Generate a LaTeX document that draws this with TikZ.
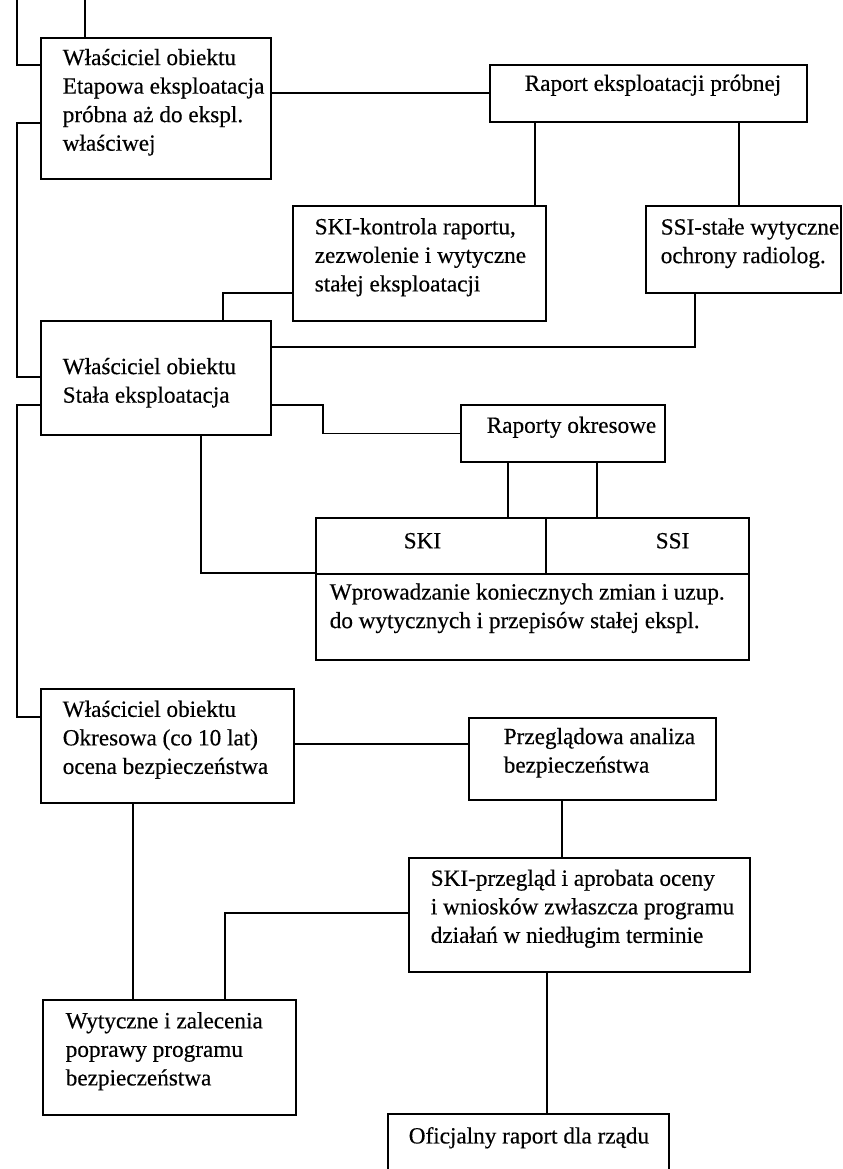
\documentclass[tikz,border=0pt]{standalone}
\usepackage{fontspec}
\setmainfont{Liberation Serif}[FakeBold=0.4]
\newdimen\px \px=0.025cm
% text block in a box: [bottom gap]{width}{height}{left pad}{text}
\newcommand{\boxtxt}[5][12]{\parbox[c][#3\px][c]{#2\px}{\leftskip=#4\px\relax\rightskip=-40\px plus 1fil\relax #5\par\vspace*{#1\px}}}
\tikzset{
  box/.style={draw, line width=1.1pt, inner sep=0pt, anchor=north west, font=\fontsize{16.5}{20.3}\selectfont},
  link/.style={line width=1.1pt}
}
\begin{document}
\begin{tikzpicture}[x=0.025cm,y=-0.025cm]
\useasboundingbox (0,0) rectangle (842,1169);

% owner boxes on the left
\node[box] (own1) at (40,37) {\boxtxt{230}{141}{22}{Właściciel obiektu\\Etapowa eksploatacja\\próbna aż do ekspl.\\właściwej}};
\node[box] (own2) at (40,320) {\boxtxt[-10]{230}{114}{22}{Właściciel obiektu\\Stała eksploatacja}};
\node[box] (own3) at (40,688) {\boxtxt{253}{114}{22}{Właściciel obiektu\\Okresowa (co 10 lat)\\ocena bezpieczeństwa}};
\node[box] (guide) at (42,999) {\boxtxt{253}{115}{23}{Wytyczne i zalecenia\\poprawy programu\\bezpieczeństwa}};

% trial operation
\node[box] (trial) at (489,64) {\boxtxt[16]{317}{57}{35}{Raport eksploatacji próbnej}};
\node[box] (skiok) at (292,205) {\boxtxt{253}{115}{22}{SKI-kontrola raportu,\\zezwolenie i wytyczne\\stałej eksploatacji}};
\node[box] (ssiok) at (645,205) {\boxtxt{195}{87}{15}{SSI-stałe wytyczne\\ochrony radiolog.}};

% permanent operation
\node[box] (periodic) at (460,404) {\boxtxt{204}{57}{26}{Raporty okresowe}};
\node[box] (skicell) at (315,517) {\boxtxt[10]{230}{56}{88}{SKI}};
\node[box] (ssicell) at (545,517) {\boxtxt[10]{203}{56}{110}{SSI}};
\node[box] (changes) at (315,573) {\boxtxt[17]{433}{86}{14}{Wprowadzanie koniecznych zmian i uzup.\\do wytycznych i przepisów stałej ekspl.}};

% periodic assessment
\node[box] (psa) at (468,717) {\boxtxt{247}{82}{35}{Przeglądowa analiza\\bezpieczeństwa}};
\node[box] (skirev) at (408,857) {\boxtxt{341}{114}{22}{SKI-przegląd i aprobata oceny\\i wniosków zwłaszcza programu\\działań w niedługim terminie}};
\node[box] (gov) at (387,1113) {\boxtxt{281}{60}{21}{Oficjalny raport dla rządu}};

% lines coming from above
\coordinate (in1) at (17,0);
\coordinate (in2) at (85,0);
\draw[link] (in1) |- (own1.west |- 0,65);
\draw[link] (in2) -- (in2 |- own1.north);

\draw[link] (own1.east |- trial.west) -- (trial.west);
\draw[link] (trial.south -| 535,0) -- (skiok.north -| 535,0);
\draw[link] (trial.south -| 739,0) -- (ssiok.north -| 739,0);
\draw[link] (skiok.west |- 0,293) -| (own2.north -| 223,0);
\draw[link] (ssiok.south -| 695,0) |- (own2.east |- 0,347);
\draw[link] (own1.west |- 0,123) -| (17,377) -- (own2.west |- 0,377);

\draw[link] (own2.east |- 0,405) -| (323,0 |- periodic.west) -- (periodic.west);
\draw[link] (periodic.south -| 508,0) -- (skicell.north -| 508,0);
\draw[link] (periodic.south -| 597,0) -- (ssicell.north -| 597,0);
\draw[link] (own2.south -| 201,0) |- (changes.north west);
\draw[link] (own2.west |- 0,405) -| (17,717) -- (own3.west |- 0,717);

\draw[link] (own3.east |- 0,744) -- (psa.west |- 0,744);
\draw[link] (psa.south -| 562,0) -- (skirev.north -| 562,0);
\draw[link] (skirev.west |- 0,913) -| (guide.north -| 225,0);
\draw[link] (own3.south -| 133,0) -- (guide.north -| 133,0);
\draw[link] (skirev.south -| 547,0) -- (gov.north -| 547,0);
\end{tikzpicture}
\end{document}
